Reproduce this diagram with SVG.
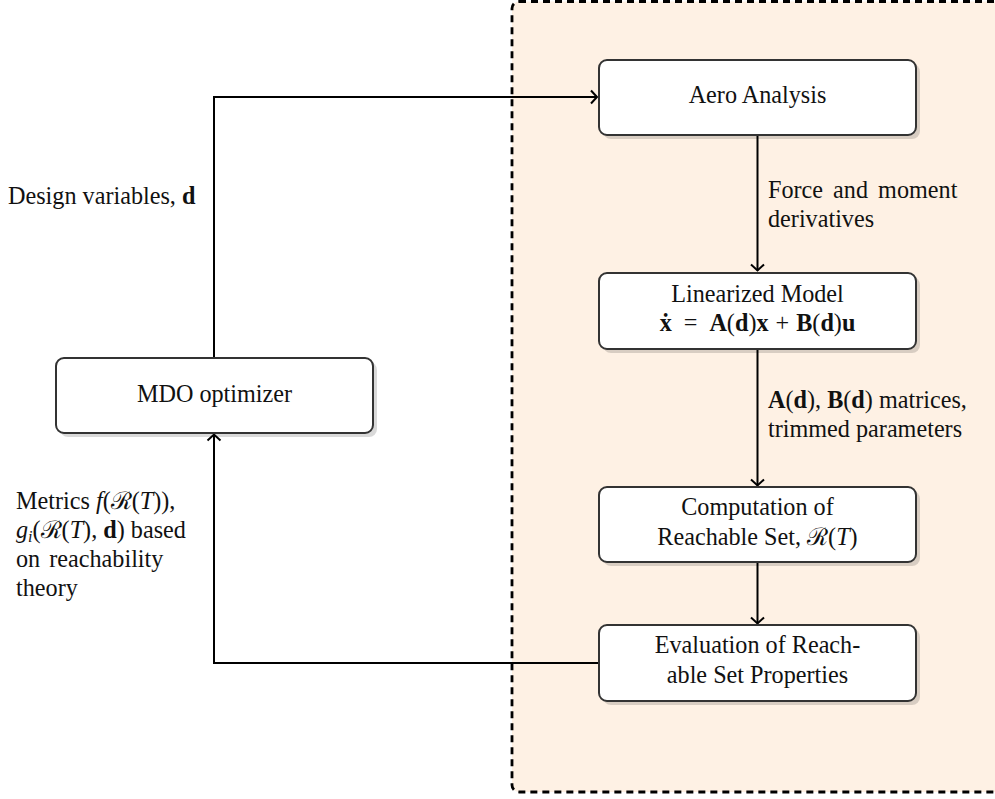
<svg xmlns="http://www.w3.org/2000/svg" width="995" height="799" viewBox="0 0 995 799">
<style>
text{font-family:"Liberation Serif","Times New Roman",serif;font-size:24.2px;fill:#111}
.c{text-anchor:middle}
.b{font-weight:bold}
.i{font-style:italic}
.box{fill:#fff;stroke:#333;stroke-width:2}
.sh{fill:#000;fill-opacity:.15}
.ln{fill:none;stroke:#000;stroke-width:2}
</style>
<defs>
<marker id="ar" markerUnits="userSpaceOnUse" markerWidth="16" markerHeight="16" viewBox="-10 -8 12 16" refX="0" refY="0" orient="auto">
<path d="M-6,-6.5 L0,0 L-6,6.5" fill="none" stroke="#000" stroke-width="2"/>
</marker>
</defs>
<rect id="region" x="512" y="1.5" width="500" height="790.5" rx="7" fill="#fef1e4" stroke="#000" stroke-width="2.8" stroke-dasharray="7 5"/>
<g id="connectors">
<path class="ln" d="M214,358 V97 H597" marker-end="url(#ar)"/>
<path class="ln" d="M757.5,135 V270.5" marker-end="url(#ar)"/>
<path class="ln" d="M757.5,349 V485.5" marker-end="url(#ar)"/>
<path class="ln" d="M757.5,562 V623.5" marker-end="url(#ar)"/>
<path class="ln" d="M599,663 H214 V434.5" marker-end="url(#ar)"/>
</g>
<g id="aero">
<rect class="sh" x="603" y="64" width="317" height="75" rx="8"/>
<rect class="box" x="599" y="60" width="317" height="75" rx="8"/>
<text class="c" x="757.5" y="103">Aero Analysis</text>
</g>
<g id="linearized">
<rect class="sh" x="603" y="277" width="317" height="76" rx="8"/>
<rect class="box" x="599" y="273" width="317" height="76" rx="8"/>
<text class="c" x="757.5" y="302">Linearized Model</text>
<text class="c" x="757.5" y="331"><tspan class="b">ẋ</tspan><tspan dx="12">=</tspan><tspan class="b" dx="12">A</tspan>(<tspan class="b">d</tspan>)<tspan class="b">x</tspan><tspan dx="7">+</tspan><tspan class="b" dx="7">B</tspan>(<tspan class="b">d</tspan>)<tspan class="b">u</tspan></text>
</g>
<g id="computation">
<rect class="sh" x="603" y="491" width="317" height="75" rx="8"/>
<rect class="box" x="599" y="487" width="317" height="75" rx="8"/>
<text class="c" x="757.5" y="515">Computation of</text>
<text class="c" x="757.5" y="545">Reachable Set, ℛ(<tspan class="i">T</tspan>)</text>
</g>
<g id="evaluation">
<rect class="sh" x="603" y="629" width="317" height="76" rx="8"/>
<rect class="box" x="599" y="625" width="317" height="76" rx="8"/>
<text class="c" x="757.5" y="653">Evaluation of Reach-</text>
<text class="c" x="757.5" y="683">able Set Properties</text>
</g>
<g id="mdo">
<rect class="sh" x="60" y="362" width="317" height="75" rx="8"/>
<rect class="box" x="56" y="358" width="317" height="75" rx="8"/>
<text class="c" x="214.5" y="402">MDO optimizer</text>
</g>
<g id="labels">
<text x="8" y="204">Design variables, <tspan class="b">d</tspan></text>
<text x="768" y="198" word-spacing="4">Force and moment</text>
<text x="768" y="227">derivatives</text>
<text x="768" y="408"><tspan class="b">A</tspan>(<tspan class="b">d</tspan>), <tspan class="b">B</tspan>(<tspan class="b">d</tspan>) matrices,</text>
<text x="768" y="437">trimmed parameters</text>
<text x="16" y="509">Metrics <tspan class="i">f</tspan>(ℛ(<tspan class="i">T</tspan>)),</text>
<text x="16" y="538"><tspan class="i">g</tspan><tspan class="i" font-size="16" dy="4">i</tspan><tspan dy="-4">(ℛ(</tspan><tspan class="i">T</tspan>), <tspan class="b">d</tspan>) based</text>
<text x="16" y="567" word-spacing="3">on reachability</text>
<text x="16" y="596">theory</text>
</g>
</svg>
